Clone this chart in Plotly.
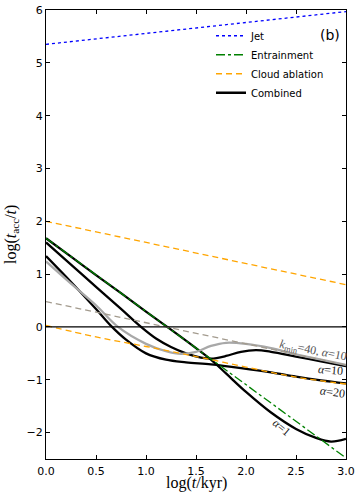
import plotly.graph_objects as go

# ---- data ----
jet_x = [0.0, 3.0]
jet_y = [5.35, 5.97]

ent_x = [0.0, 3.0]
ent_y = [1.68, -2.48]

abl_hi_x = [0.0, 3.0]
abl_hi_y = [2.0, 0.80]

abl_lo_x = [0.0, 0.5, 1.0, 1.5, 2.0, 2.5, 3.0]
abl_lo_y = [0.03, -0.19, -0.37, -0.56, -0.76, -0.95, -1.08]

kmin_dash_x = [0.0, 3.0]
kmin_dash_y = [0.48, -0.72]

a1_x = [0.0, 0.25, 0.5, 0.75, 1.0, 1.25, 1.5, 1.65, 1.8, 2.0, 2.25, 2.5, 2.7, 2.85, 3.0]
a1_y = [1.68, 1.33, 0.98, 0.64, 0.29, -0.05, -0.40, -0.62, -0.88, -1.23, -1.62, -1.93, -2.10, -2.17, -2.12]

a10_x = [0.0, 0.25, 0.5, 0.75, 0.95, 1.1, 1.25, 1.4, 1.55, 1.65, 1.8, 1.95, 2.1, 2.25, 2.5, 2.75, 3.0]
a10_y = [1.60, 1.18, 0.76, 0.34, 0.0, -0.22, -0.38, -0.50, -0.58, -0.60, -0.55, -0.47, -0.44, -0.47, -0.56, -0.65, -0.74]

a20_x = [0.0, 0.25, 0.5, 0.65, 0.8, 1.0, 1.2, 1.4, 1.65, 1.95, 2.25, 2.5, 2.75, 3.0]
a20_y = [1.34, 0.85, 0.34, 0.02, -0.24, -0.50, -0.62, -0.67, -0.71, -0.78, -0.86, -0.94, -1.01, -1.07]

kmin_x = [0.0, 0.25, 0.5, 0.72, 1.0, 1.2, 1.35, 1.5, 1.65, 1.8, 2.0, 2.25, 2.5, 2.75, 3.0]
kmin_y = [1.24, 0.82, 0.41, 0.0, -0.32, -0.46, -0.51, -0.47, -0.36, -0.30, -0.32, -0.40, -0.52, -0.62, -0.72]

x_ticks = [0.0, 0.5, 1.0, 1.5, 2.0, 2.5, 3.0]
x_tick_labels = ["0.0", "0.5", "1.0", "1.5", "2.0", "2.5", "3.0"]
y_ticks = [-2, -1, 0, 1, 2, 3, 4, 5, 6]
y_tick_labels = ["\u22122", "\u22121", "0", "1", "2", "3", "4", "5", "6"]

fig = go.Figure()

# combined curves (drawn first, dashed model lines on top)
fig.add_trace(go.Scatter(x=a1_x, y=a1_y, mode="lines", line=dict(color="black", width=2.3, shape="spline"),
                         name="Combined", legendrank=4))
fig.add_trace(go.Scatter(x=a10_x, y=a10_y, mode="lines", line=dict(color="black", width=2.3, shape="spline"),
                         showlegend=False))
fig.add_trace(go.Scatter(x=a20_x, y=a20_y, mode="lines", line=dict(color="black", width=2.3, shape="spline"),
                         showlegend=False))
fig.add_trace(go.Scatter(x=kmin_x, y=kmin_y, mode="lines", line=dict(color="#a8a8a8", width=2.3, shape="spline"),
                         showlegend=False))

fig.add_trace(go.Scatter(x=jet_x, y=jet_y, mode="lines", line=dict(color="blue", width=1.3, dash="dot"),
                         name="Jet", legendrank=1))
fig.add_trace(go.Scatter(x=ent_x, y=ent_y, mode="lines", line=dict(color="green", width=1.3, dash="dashdot"),
                         name="Entrainment", legendrank=2))
fig.add_trace(go.Scatter(x=abl_hi_x, y=abl_hi_y, mode="lines", line=dict(color="orange", width=1.3, dash="6px,4px"),
                         name="Cloud ablation", legendrank=3))
fig.add_trace(go.Scatter(x=abl_lo_x, y=abl_lo_y, mode="lines", line=dict(color="orange", width=1.3, dash="6px,4px", shape="spline"),
                         showlegend=False))
fig.add_trace(go.Scatter(x=kmin_dash_x, y=kmin_dash_y, mode="lines", line=dict(color="#a39b8e", width=1.3, dash="6px,4px"),
                         showlegend=False))

fig.add_hline(y=0, line_width=1.2, line_color="black")

serif = "Liberation Serif"
fig.add_annotation(x=2.67, y=-0.45, xref="x", yref="y", text="<i>k</i><sub>min</sub>=40, <i>\u03b1</i>=10",
                   showarrow=False, textangle=11, font=dict(family=serif, size=12, color="#555555"))
fig.add_annotation(x=2.84, y=-0.82, xref="x", yref="y", text="<i>\u03b1</i>=10",
                   showarrow=False, textangle=5, font=dict(family=serif, size=12, color="#222222"))
fig.add_annotation(x=2.86, y=-1.24, xref="x", yref="y", text="<i>\u03b1</i>=20",
                   showarrow=False, textangle=8, font=dict(family=serif, size=12, color="#222222"))
fig.add_annotation(x=2.35, y=-1.90, xref="x", yref="y", text="<i>\u03b1</i>=1",
                   showarrow=False, textangle=40, font=dict(family=serif, size=12, color="#222222"))
fig.add_annotation(x=0.947, y=0.945, xref="paper", yref="paper", text="(b)", showarrow=False,
                   xanchor="center", yanchor="middle", font=dict(family="DejaVu Sans", size=14, color="black"))

# axis titles
fig.add_annotation(x=0.5, y=(459 - 483) / 449, xref="paper", yref="paper", text="log(<i>t</i>/kyr)", showarrow=False,
                   xanchor="center", yanchor="middle", font=dict(family=serif, size=16, color="black"))
fig.add_annotation(x=-0.115, y=0.5, xref="paper", yref="paper", text="log(<i>t</i><sub>acc</sub>/<i>t</i>)",
                   showarrow=False, textangle=-90, xanchor="center", yanchor="middle",
                   font=dict(family=serif, size=16, color="black"))

axis_common = dict(showline=True, linecolor="black", linewidth=1.2, mirror="ticks", ticks="inside",
                   ticklen=4, tickwidth=1, tickcolor="black", showgrid=False, zeroline=False,
                   automargin=False, tickfont=dict(family="DejaVu Sans", size=11, color="black"))

fig.update_xaxes(range=[0, 3], tickvals=x_ticks, ticktext=x_tick_labels, ticklabelstandoff=2, **axis_common)
fig.update_yaxes(range=[-2.5, 6], tickvals=y_ticks, ticktext=y_tick_labels, **axis_common)

fig.update_layout(
    width=357, height=500,
    margin=dict(l=46, r=11, t=10, b=41),
    plot_bgcolor="white", paper_bgcolor="white",
    legend=dict(x=0.55, y=0.975, xanchor="left", yanchor="top", bgcolor="rgba(0,0,0,0)",
                font=dict(family="DejaVu Sans", size=10, color="black"), tracegroupgap=0,
                itemwidth=30),
)

fig.write_html("out.html", config={"displayModeBar": False},
               post_script="document.body.style.margin='0';")
